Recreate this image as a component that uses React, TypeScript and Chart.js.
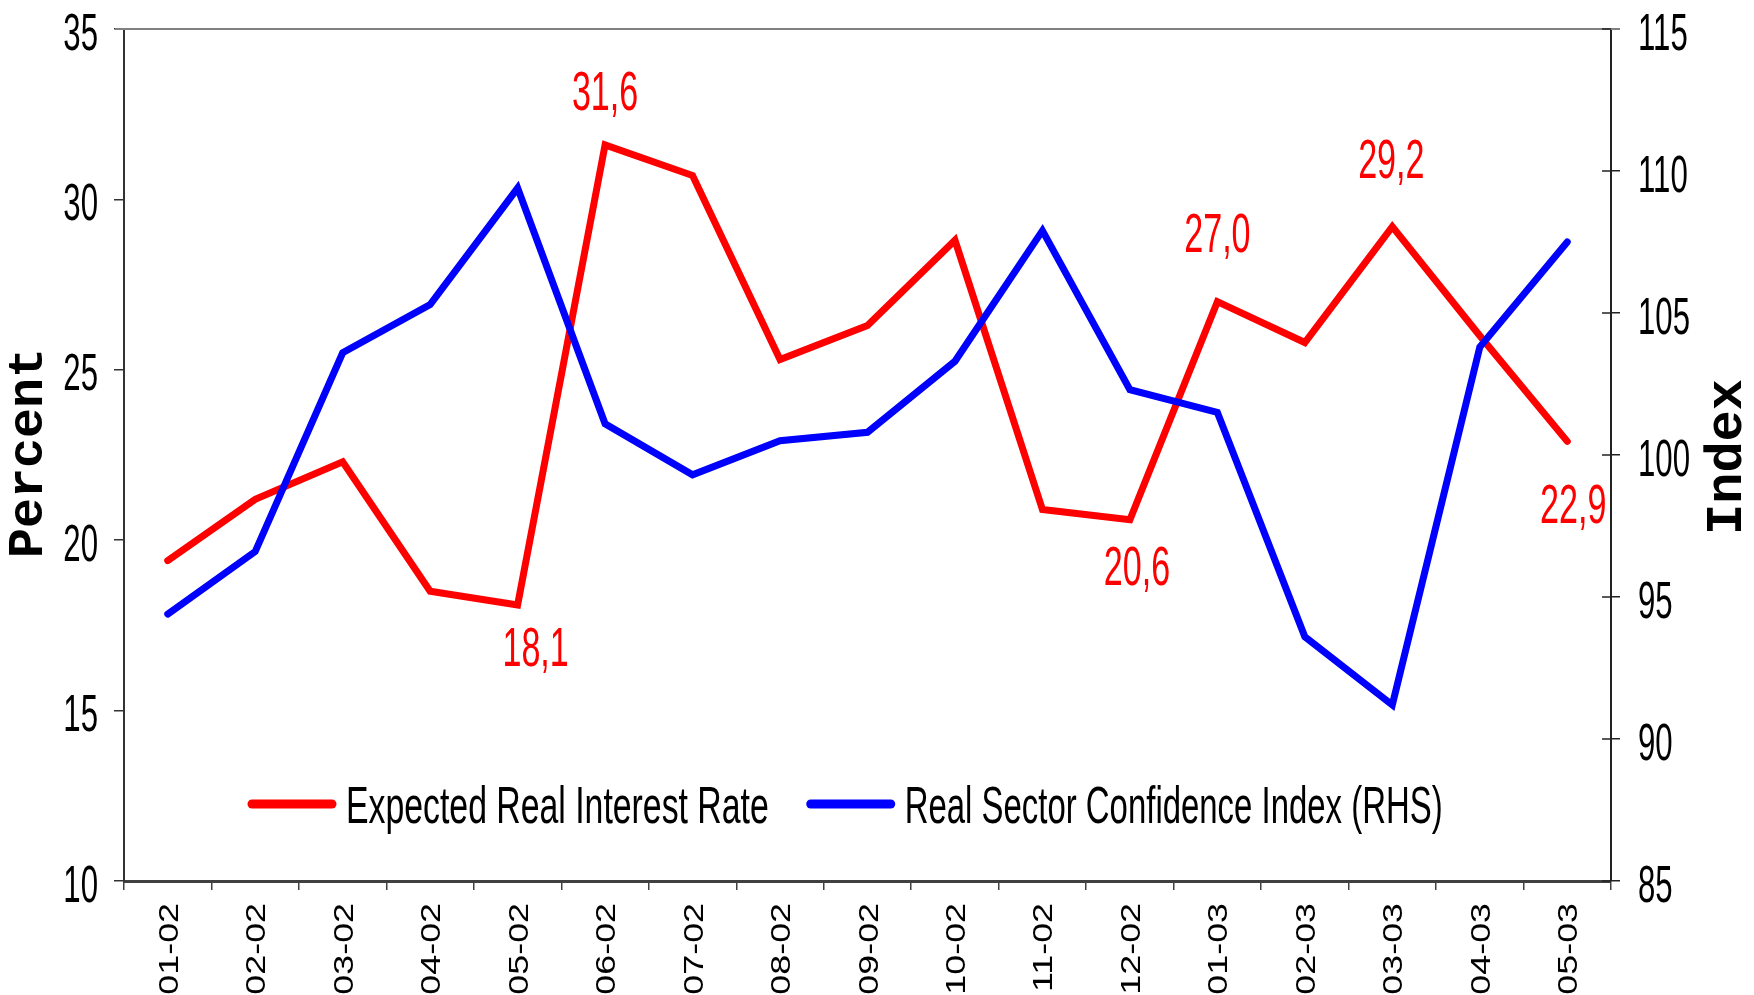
import React, { useEffect, useRef } from 'react';
import { Chart, registerables } from 'chart.js';

Chart.register(...registerables);

// ---------- data ----------
const categories = [
  '01-02', '02-02', '03-02', '04-02', '05-02', '06-02', '07-02', '08-02', '09-02',
  '10-02', '11-02', '12-02', '01-03', '02-03', '03-03', '04-03', '05-03',
];
const interestRate = [19.4, 21.2, 22.3, 18.5, 18.1, 31.6, 30.7, 25.3, 26.3, 28.8, 20.9, 20.6, 27.0, 25.8, 29.2, 26.0, 22.9];
const confidenceIndex = [94.4, 96.6, 103.6, 105.3, 109.4, 101.1, 99.3, 100.5, 100.8, 103.3, 107.9, 102.3, 101.5, 93.6, 91.2, 103.8, 107.5];
const leftTicks = [10, 15, 20, 25, 30, 35];
const rightTicks = [85, 90, 95, 100, 105, 110, 115];
const labelledIndices = [4, 5, 11, 12, 14, 16];
const seriesNames = ['Expected Real Interest Rate', 'Real Sector Confidence Index (RHS)'];
const axisTitles = ['Percent', 'Index'];

// ---------- styles ----------
const RED = '#FF0000';
const BLUE = '#0000FF';
const SANS = '"Liberation Sans", Arial, sans-serif';
const MONO = '"Liberation Mono", "Courier New", monospace';
// label offsets (px) relative to the point, by index
const labelOffsets: Record<number, [number, number]> = {
  4: [18, 41],
  5: [0, -55],
  11: [7, 46],
  12: [0, -69],
  14: [-1, -68],
  16: [6, 62],
};
const legendScaleX = [0.65, 0.633];

function drawText(
  ctx: CanvasRenderingContext2D,
  text: string,
  x: number,
  y: number,
  o: { font: string; sx?: number; sy?: number; align?: CanvasTextAlign; baseline?: CanvasTextBaseline; color?: string; rotate?: number }
) {
  ctx.save();
  ctx.translate(x, y);
  if (o.rotate) ctx.rotate(o.rotate);
  ctx.scale(o.sx ?? 1, o.sy ?? 1);
  ctx.font = o.font;
  ctx.textAlign = o.align ?? 'left';
  ctx.textBaseline = o.baseline ?? 'alphabetic';
  ctx.fillStyle = o.color ?? '#000';
  ctx.fillText(text, 0, 0);
  ctx.restore();
}

const textPlugin = {
  id: 'customText',
  afterDraw(chart: any) {
    const ctx: CanvasRenderingContext2D = chart.ctx;
    const area = chart.chartArea;
    const xs = chart.scales.x;
    const yl = chart.scales.y;
    const yr = chart.scales.y1;

    // top border
    ctx.save();
    ctx.strokeStyle = '#808080';
    ctx.lineWidth = 2;
    ctx.beginPath();
    ctx.moveTo(area.left - 9, area.top);
    ctx.lineTo(area.right + 9, area.top);
    ctx.stroke();
    // inner ticks on right axis
    ctx.strokeStyle = '#222';
    ctx.lineWidth = 1.5;
    yr.ticks.forEach((t: any) => {
      const py = yr.getPixelForValue(t.value);
      ctx.beginPath();
      ctx.moveTo(area.right - 9, py);
      ctx.lineTo(area.right, py);
      ctx.stroke();
    });
    ctx.restore();

    // y tick labels
    const tickFont = `52px ${SANS}`;
    yl.ticks.forEach((t: any) => {
      const py = yl.getPixelForValue(t.value);
      drawText(ctx, String(t.value), area.left - 26, py + 20.6, { font: tickFont, sx: 0.6, align: 'right' });
    });
    yr.ticks.forEach((t: any) => {
      const py = yr.getPixelForValue(t.value);
      drawText(ctx, String(t.value), area.right + 27, py + 20.6, { font: tickFont, sx: 0.6, align: 'left' });
    });

    // x tick labels (rotated)
    categories.forEach((c, i) => {
      const px = xs.getPixelForValue(i);
      drawText(ctx, c, px + 10, area.bottom + 22, {
        font: `28px ${SANS}`,
        sx: 1.28,
        align: 'right',
        rotate: -Math.PI / 2,
      });
    });

    // axis titles
    drawText(ctx, axisTitles[0], 42, (area.top + area.bottom) / 2 - 2, {
      font: `bold 50px ${MONO}`,
      align: 'center',
      rotate: -Math.PI / 2,
    });
    drawText(ctx, axisTitles[1], 1741, (area.top + area.bottom) / 2 + 2, {
      font: `bold 52px ${MONO}`,
      align: 'center',
      rotate: -Math.PI / 2,
    });

    // data labels
    labelledIndices.forEach((i) => {
      const px = xs.getPixelForValue(i);
      const py = yl.getPixelForValue(interestRate[i]);
      const [dx, dy] = labelOffsets[i];
      drawText(ctx, interestRate[i].toFixed(1).replace('.', ','), px + dx, py + dy + 19.7, {
        font: `55px ${SANS}`,
        sx: 0.62,
        align: 'center',
        color: RED,
      });
    });

    // legend
    const legY = area.top + 775;
    let lx = area.left + 128;
    const colors = [RED, BLUE];
    const legFont = `52px ${SANS}`;
    ctx.save();
    seriesNames.forEach((name, k) => {
      ctx.strokeStyle = colors[k];
      ctx.lineWidth = 9;
      ctx.lineCap = 'round';
      ctx.beginPath();
      ctx.moveTo(lx, legY);
      ctx.lineTo(lx + 80, legY);
      ctx.stroke();
      const tx = lx + 94;
      const sx = legendScaleX[k];
      drawText(ctx, name, tx, legY + 18.6, { font: legFont, sx, align: 'left' });
      ctx.font = legFont;
      const w = ctx.measureText(name).width * sx;
      lx = tx + w + 42;
    });
    ctx.restore();
  },
};

export default function App() {
  const canvasRef = useRef<HTMLCanvasElement | null>(null);

  useEffect(() => {
    const canvas = canvasRef.current;
    if (!canvas) return;
    const chart = new Chart(canvas, {
      type: 'line',
      data: {
        labels: categories,
        datasets: [
          {
            label: seriesNames[0],
            data: interestRate,
            borderColor: RED,
            backgroundColor: RED,
            borderWidth: 7,
            pointRadius: 0,
            tension: 0,
            borderCapStyle: 'round',
            borderJoinStyle: 'miter',
            yAxisID: 'y',
            order: 1,
          },
          {
            label: seriesNames[1],
            data: confidenceIndex,
            borderColor: BLUE,
            backgroundColor: BLUE,
            borderWidth: 7,
            pointRadius: 0,
            tension: 0,
            borderCapStyle: 'round',
            borderJoinStyle: 'miter',
            yAxisID: 'y1',
            order: 0,
          },
        ],
      },
      options: {
        responsive: false,
        animation: false,
        layout: { padding: { top: 29, left: 0, right: 0, bottom: 0 } },
        plugins: { legend: { display: false }, tooltip: { enabled: false }, title: { display: false } },
        scales: {
          x: {
            type: 'category',
            offset: true,
            grid: { offset: true, drawOnChartArea: false, drawTicks: true, tickLength: 9, color: '#404040', lineWidth: 1.5 },
            border: { display: true, color: '#404040', width: 3 },
            ticks: { display: false, autoSkip: false },
            afterFit: (s: any) => {
              s.height = 114;
            },
          },
          y: {
            type: 'linear',
            position: 'left',
            min: 10,
            max: 35,
            afterBuildTicks: (s: any) => {
              s.ticks = leftTicks.map((v) => ({ value: v }));
            },
            ticks: { display: false },
            grid: { drawOnChartArea: false, drawTicks: true, tickLength: 10, color: '#333', lineWidth: 1.5 },
            border: { display: true, color: '#333', width: 2 },
            afterFit: (s: any) => {
              s.width = 124;
            },
          },
          y1: {
            type: 'linear',
            position: 'right',
            min: 85,
            max: 115,
            afterBuildTicks: (s: any) => {
              s.ticks = rightTicks.map((v) => ({ value: v }));
            },
            ticks: { display: false },
            grid: { drawOnChartArea: false, drawTicks: true, tickLength: 9, color: '#222', lineWidth: 1.5 },
            border: { display: true, color: '#222', width: 2 },
            afterFit: (s: any) => {
              s.width = 143;
            },
          },
        },
      },
      plugins: [textPlugin],
    });
    return () => chart.destroy();
  }, []);

  return (
    <div style={{ position: 'absolute', left: 0, top: 0, width: 1754, height: 995, background: '#fff' }}>
      <canvas ref={canvasRef} width={1754} height={995} style={{ display: 'block' }} />
    </div>
  );
}
